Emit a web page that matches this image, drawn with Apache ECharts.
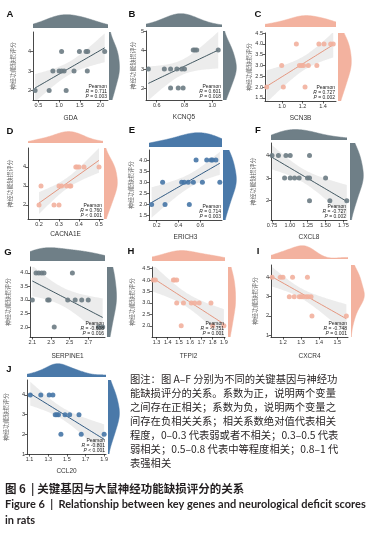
<!DOCTYPE html>
<html><head><meta charset="utf-8">
<script src="https://cdn.jsdelivr.net/npm/echarts@6/dist/echarts.min.js"></script>
<style>html,body{margin:0;padding:0;background:#fff}#c{width:383px;height:534px}</style>
</head><body><div id="c"></div>
<script>
// ---------------- DATA ----------------
const geneNames = ['GDA','KCNQ5','SCN3B','CACNA1E','ERICH3','CXCL8','SERPINE1','TFPI2','CXCR4','CCL20'];
const panelLetters = ['A','B','C','D','E','F','G','H','I','J'];
const rTexts = ['0.711','0.601','0.727','0.760','0.714','-0.727','-0.608','-0.751','-0.748','-0.801'];
const pTexts = ['= 0.003','= 0.018','= 0.002','< 0.001','= 0.003','= 0.002','= 0.016','= 0.001','= 0.001','< 0.001'];
const yAxisTitle = '神经功能缺损评分';

const gdaX = [0.42,0.76,1.17, 0.85,1.00,1.06,1.12,1.36,1.68, 1.06,1.49,1.65,1.69,2.10];
const gdaY = [2,2,2, 3,3,3,3,3,3, 4,4,4,4,4];
const kcnq5X = [0.70,0.755,0.79, 0.54,0.655,0.70,0.745,0.78,0.80, 0.863,0.875,0.888,1.043];
const kcnq5Y = [2,2,2, 3,3,3,3,3,3, 4,4,4,4];
const scn3bX = [0.85,1.013,1.225, 0.997,1.17,1.19,1.21,1.257,1.34, 1.14,1.36,1.41,1.475,1.50];
const scn3bY = [2,2,2, 3,3,3,3,3,3, 4,4,4,4,4];
const cacna1eX = [0.20,0.275,0.30, 0.21,0.30,0.313,0.338,0.354,0.359, 0.384,0.39,0.40,0.425,0.50];
const cacna1eY = [2,2,2, 3,3,3,3,3,3, 4,4,4,4,4];
const erich3X = [0.154,0.277,0.50, 0.255,0.43,0.454,0.49,0.537,0.62,0.78, 0.562,0.66,0.70,0.712,0.744];
const erich3Y = [2,2,2, 3,3,3,3,3,3,3, 4,4,4,4,4];
const cxcl8X = [1.275,1.56,1.797, 0.926,1.005,1.066,1.13,1.247,1.275,1.50, 0.75,0.84,0.945,1.005,1.275];
const cxcl8Y = [2,2,2, 3,3,3,3,3,3,3, 4,4,4,4,4];
const serpine1X = [2.335,2.81,2.855, 2.10,2.265,2.28,2.48,2.56,2.63,2.70, 2.14,2.17,2.20,2.225,2.53];
const serpine1Y = [2,2,2, 3,3,3,3,3,3,3, 4,4,4,4,4];
const tfpi2X = [1.52,1.80,1.90, 1.48,1.54,1.61,1.64,1.68,1.785, 1.27,1.29,1.45,1.46,1.48];
const tfpi2Y = [2,2,2, 3,3,3,3,3,3, 4,4,4,4,4];
const cxcr4X = [1.36,1.55, 1.235,1.262,1.29,1.30,1.31,1.328,1.34,1.355, 1.14,1.185,1.20,1.253,1.335];
const cxcr4Y = [2,2, 3,3,3,3,3,3,3,3, 4,4,4,4,4];
const ccl20X = [1.436,1.654,1.90, 1.375,1.393,1.41,1.48,1.53,1.63, 1.107,1.22,1.31,1.35];
const ccl20Y = [2,2,2, 3,3,3,3,3,3, 4,4,4,4];

const xTicksA = [0.5,1.0,1.5,2.0], yTicksA = [2,3,4];
const xTicksB = [0.6,0.8,1.0], yTicksB = [2,3,4,5];
const xTicksC = [1.0,1.2,1.4], yTicksC = [1.5,2.0,2.5,3.0,3.5,4.0,4.5];
const xTicksD = [0.2,0.3,0.4,0.5], yTicksD = [2,3,4];
const xTicksE = [0.2,0.4,0.6], yTicksE = [1.5,2.0,2.5,3.0,3.5,4.0];
const xTicksF = [0.75,1.00,1.25,1.50,1.75], yTicksF = [2,3,4];
const xTicksG = [2.1,2.3,2.5,2.7], yTicksG = [2.0,2.5,3.0,3.5,4.0];
const xTicksH = [1.3,1.4,1.5,1.6,1.7,1.8,1.9], yTicksH = [1.5,2.0,2.5,3.0,3.5,4.0,4.5];
const xTicksI = [1.2,1.3,1.4,1.5], yTicksI = [1,2,3,4];
const xTicksJ = [1.1,1.3,1.5,1.7,1.9], yTicksJ = [1,2,3,4];

const noteLines = [
  '图注：图 A–F 分别为不同的关键基因与神经功',
  '能缺损评分的关系。系数为正，说明两个变量',
  '之间存在正相关；系数为负，说明两个变量之',
  '间存在负相关关系；相关系数绝对值代表相关',
  '程度，0–0.3 代表弱或者不相关；0.3–0.5 代表',
  '弱相关；0.5–0.8 代表中等程度相关；0.8–1 代',
  '表强相关'
];
const captionCn = '图 6  | 关键基因与大鼠神经功能缺损评分的关系';
const captionEn1 = 'Figure 6  |  Relationship between key genes and neurological deficit scores';
const captionEn2 = 'in rats';

// ---------------- STYLE / LAYOUT ----------------
const palettes = {
  slate:  {pt:'#6b7b83', fill:'#6f7f87', line:'#2c4550'},
  salmon: {pt:'#f2b09d', fill:'#f3b29f', line:'#e38c73'},
  blue:   {pt:'#4676a6', fill:'#4a79a9', line:'#1b4977'}
};
const panels = [
  {x:gdaX, y:gdaY, xt:xTicksA, yt:yTicksA, xd:1, yd:0, pal:'slate',  main:[33,32,75,68],  top:[33,14,75,14],  right:[109,32,11,68], xr:[0.37,2.18], yr:[1.52,5.0], let:[10,14],  yGap:17, xGap:15},
  {x:kcnq5X, y:kcnq5Y, xt:xTicksB, yt:yTicksB, xd:1, yd:0, pal:'slate', main:[146,31,76,69], top:[146,13,76,14], right:[223,31,14,69], xr:[0.523,1.07], yr:[1.37,5.0], let:[132,14], yGap:10, xGap:14},
  {x:scn3bX, y:scn3bY, xt:xTicksC, yt:yTicksC, xd:1, yd:1, pal:'salmon', main:[265,33,71,68], top:[265,15,71,12], right:[338,33,14,68], xr:[0.834,1.527], yr:[1.35,4.51], let:[258,14], yGap:10, xGap:14},
  {x:cacna1eX, y:cacna1eY, xt:xTicksD, yt:yTicksD, xd:1, yd:0, pal:'salmon', main:[28,148,75,71], top:[28,131,75,12], right:[104,148,14,71], xr:[0.145,0.52], yr:[1.26,5.0], let:[10,131], yGap:15, xGap:12},
  {x:erich3X, y:erich3Y, xt:xTicksE, yt:yTicksE, xd:1, yd:1, pal:'blue', main:[149,150,73,70], top:[149,132,73,15], right:[223,150,14,70], xr:[0.13,0.80], yr:[1.3,4.45], let:[132,130], yGap:15, xGap:14},
  {x:cxcl8X, y:cxcl8Y, xt:xTicksF, yt:yTicksF, xd:2, yd:0, pal:'slate', main:[271,143,76,77], top:[271,129,76,11], right:[350,143,14,77], xr:[0.736,1.80], yr:[1.14,4.56], let:[258,130], yGap:15, xGap:14},
  {x:serpine1X, y:serpine1Y, xt:xTicksG, yt:yTicksG, xd:1, yd:1, pal:'slate', main:[30,267,75,70], top:[30,247,75,14], right:[107,267,10,70], xr:[2.075,2.88], yr:[1.63,4.22], let:[8,252], yGap:19, xGap:16},
  {x:tfpi2X, y:tfpi2Y, xt:xTicksH, yt:yTicksH, xd:1, yd:1, pal:'salmon', main:[152,267,73,70], top:[152,250,73,11], right:[228,267,8,70], xr:[1.26,1.91], yr:[1.51,4.57], let:[131,251], yGap:17, xGap:16},
  {x:cxcr4X, y:cxcr4Y, xt:xTicksI, yt:yTicksI, xd:1, yd:0, pal:'salmon', main:[271,265,77,72], top:[271,245,77,14], right:[351,265,14,72], xr:[1.134,1.559], yr:[0.91,4.64], let:[258,251], yGap:13, xGap:16},
  {x:ccl20X, y:ccl20Y, xt:xTicksJ, yt:yTicksJ, xd:1, yd:0, pal:'blue', main:[27,380,79,74], top:[27,363,79,14], right:[108,380,12,74], xr:[1.072,1.92], yr:[1.0,4.76], let:[9,369], yGap:18, xGap:14}
];

// ---------------- STATS ----------------
const bwAdjust = 1.45;
function kde(vals, lo, hi, m) {
  const n = vals.length;
  const mu = vals.reduce((a,b)=>a+b,0)/n;
  const sd = Math.sqrt(vals.reduce((a,b)=>a+(b-mu)*(b-mu),0)/(n-1));
  const s = vals.slice().sort((a,b)=>a-b);
  const q = p => { const h=(n-1)*p, i=Math.floor(h); return s[i] + (h-i)*(s[Math.min(i+1,n-1)]-s[i]); };
  const iqr = q(0.75)-q(0.25);
  let sc = Math.min(sd, iqr/1.34); if (!(sc>0)) sc = sd;
  const bw = bwAdjust*0.9*sc*Math.pow(n,-0.2);
  const out = [];
  for (let k=0;k<=m;k++){
    const t = lo+(hi-lo)*k/m; let d=0;
    for (const v of vals){ const z=(t-v)/bw; d+=Math.exp(-0.5*z*z); }
    out.push([t, d/(n*bw*Math.sqrt(2*Math.PI))]);
  }
  return out;
}
const tTable = {9:2.262,10:2.228,11:2.201,12:2.179,13:2.160,14:2.145,15:2.131,16:2.120};
function fit(xs, ys) {
  const n = xs.length;
  const xb = xs.reduce((a,b)=>a+b,0)/n, yb = ys.reduce((a,b)=>a+b,0)/n;
  let sxx=0, sxy=0;
  for (let i=0;i<n;i++){ sxx+=(xs[i]-xb)**2; sxy+=(xs[i]-xb)*(ys[i]-yb); }
  const b = sxy/sxx, a = yb-b*xb;
  let sse=0; for (let i=0;i<n;i++){ sse+=(ys[i]-a-b*xs[i])**2; }
  const s = Math.sqrt(sse/(n-2));
  const t = tTable[n-2] || 2.16;
  const lo = Math.min(...xs), hi = Math.max(...xs);
  const line=[], up=[], dn=[];
  for (let k=0;k<=60;k++){
    const x = lo+(hi-lo)*k/60, yh = a+b*x;
    const se = s*Math.sqrt(1/n + (x-xb)**2/sxx);
    line.push([x,yh]); up.push([x,yh+t*se]); dn.push([x,yh-t*se]);
  }
  return {line, band: up.concat(dn.reverse())};
}

// ---------------- BUILD ----------------
const grids=[], xAxes=[], yAxes=[], series=[], graphics=[];
const tickFont = 'Liberation Sans, Arial, sans-serif';
const cjk = 'Noto Sans CJK SC, sans-serif';
function poly(xi, pts, style, z) {
  return {type:'custom', xAxisIndex:xi, yAxisIndex:xi, data:[0], clip:true, silent:true, z:z,
    renderItem:(params, api)=>({type:'polygon', shape:{points:pts.map(p=>api.coord(p))}, style:style})};
}
panels.forEach((p, i) => {
  const col = palettes[p.pal];
  const gi = grids.length;
  const mk = b => ({left:b[0], top:b[1], width:b[2], height:b[3], containLabel:false});
  grids.push(mk(p.main), mk(p.top), mk(p.right));
  const axLine = {show:true, lineStyle:{color:'#1a1a1a', width:0.8}};
  xAxes.push({gridIndex:gi, type:'value', min:p.xr[0], max:p.xr[1], axisLine:axLine,
    axisTick:{show:true, length:2.5, customValues:p.xt, lineStyle:{color:'#1a1a1a', width:0.7}},
    axisLabel:{customValues:p.xt, formatter:v=>Number(v).toFixed(p.xd), fontSize:5.5, margin:2, color:'#333', fontFamily:tickFont},
    splitLine:{show:false}, name:geneNames[i], nameLocation:'middle', nameGap:p.xGap,
    nameTextStyle:{fontSize:6.5, color:'#333', fontFamily:tickFont}});
  yAxes.push({gridIndex:gi, type:'value', min:p.yr[0], max:p.yr[1], axisLine:axLine,
    axisTick:{show:true, length:2.5, customValues:p.yt, lineStyle:{color:'#1a1a1a', width:0.7}},
    axisLabel:{customValues:p.yt, formatter:v=>Number(v).toFixed(p.yd), fontSize:5.5, margin:2, color:'#333', fontFamily:tickFont},
    splitLine:{show:false}, name:yAxisTitle, nameLocation:'middle', nameGap:p.yGap, nameRotate:90,
    nameTextStyle:{fontSize:6, color:'#666', fontFamily:cjk}});
  const dTop = kde(p.x, p.xr[0], p.xr[1], 120);
  const mTop = Math.max(...dTop.map(d=>d[1]));
  xAxes.push({gridIndex:gi+1, type:'value', min:p.xr[0], max:p.xr[1], show:false});
  yAxes.push({gridIndex:gi+1, type:'value', min:0, max:mTop*1.05, show:false});
  const dR = kde(p.y, p.yr[0], p.yr[1], 120).map(d=>[d[1], d[0]]);
  const mR = Math.max(...dR.map(d=>d[0]));
  xAxes.push({gridIndex:gi+2, type:'value', min:0, max:mR*1.05, show:false});
  yAxes.push({gridIndex:gi+2, type:'value', min:p.yr[0], max:p.yr[1], show:false});

  const f = fit(p.x, p.y);
  series.push(poly(gi, f.band, {fill:'#d4d4d4', opacity:0.45}, 1));
  series.push({type:'line', xAxisIndex:gi, yAxisIndex:gi, data:f.line, showSymbol:false, symbol:'none',
    lineStyle:{color:col.line, width:0.9}, silent:true, z:2});
  series.push({type:'scatter', xAxisIndex:gi, yAxisIndex:gi, data:p.x.map((v,k)=>[v,p.y[k]]),
    symbolSize:5, itemStyle:{color:col.pt, opacity:0.9}, silent:true, z:3});
  const topPts = [[p.xr[0],0]].concat(dTop, [[p.xr[1],0]]);
  series.push(poly(gi+1, topPts, {fill:col.fill, stroke:col.fill, lineWidth:0.5}, 1));
  const rPts = [[0,p.yr[0]]].concat(dR, [[0,p.yr[1]]]);
  series.push(poly(gi+2, rPts, {fill:col.fill, stroke:col.fill, lineWidth:0.5}, 1));

  graphics.push({type:'text', x:p.let[0], y:p.let[1], style:{text:panelLetters[i], fontSize:9.5, fontWeight:'bold', fill:'#111', fontFamily:tickFont, align:'center', verticalAlign:'middle'}});
  const right = p.main[0]+p.main[2]-1, bottom = p.main[1]+p.main[3];
  graphics.push({type:'text', x:right, y:bottom-15.5, z:10, style:{
    text:'Pearson\n{i|R} = '+rTexts[i]+'\n{i|P} '+pTexts[i], align:'right', verticalAlign:'top',
    fontSize:5, lineHeight:5, fill:'#222', fontFamily:tickFont,
    rich:{i:{fontStyle:'italic', fontSize:5, fill:'#222', fontFamily:tickFont, lineHeight:5}}}});
});

noteLines.forEach((t, k) => {
  graphics.push({type:'text', x:130, y:379+14*k, style:{text:t, fontSize:10.3, fill:'#231f20', fontFamily:cjk, verticalAlign:'middle'}});
});
graphics.push({type:'text', x:5, y:489, style:{text:captionCn, fontSize:11.5, fontWeight:'bold', fill:'#231f20', fontFamily:cjk, verticalAlign:'middle'}});
graphics.push({type:'text', x:5, y:504, style:{text:captionEn1, fontSize:11, fontWeight:'bold', fill:'#231f20', fontFamily:'Lato, Open Sans, sans-serif', verticalAlign:'middle'}});
graphics.push({type:'text', x:5, y:520, style:{text:captionEn2, fontSize:11, fontWeight:'bold', fill:'#231f20', fontFamily:'Lato, Open Sans, sans-serif', verticalAlign:'middle'}});

const chart = echarts.init(document.getElementById('c'), null, {renderer:'canvas'});
chart.setOption({animation:false, backgroundColor:'#fff', grid:grids, xAxis:xAxes, yAxis:yAxes, series:series, graphic:graphics});
</script></body></html>
